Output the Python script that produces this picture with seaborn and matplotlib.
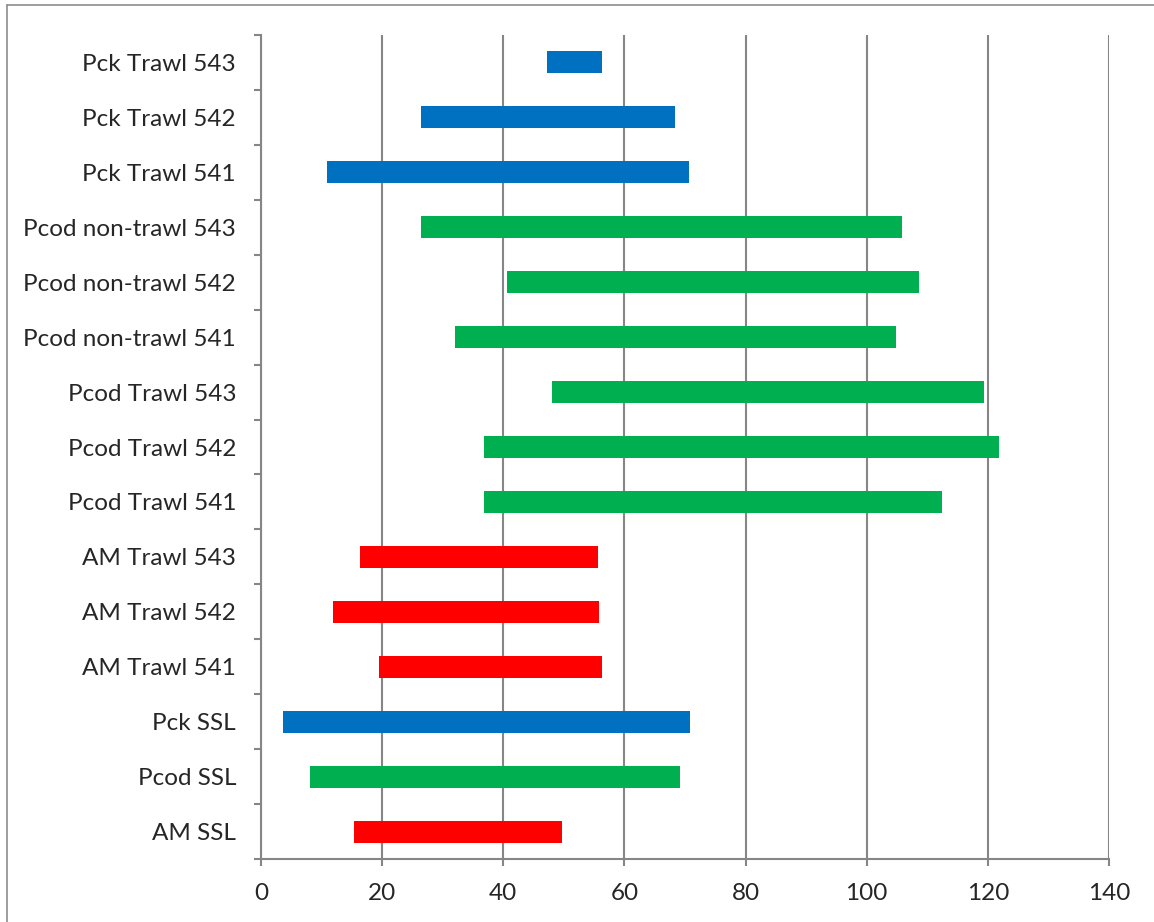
# -*- coding: utf-8 -*-

# Import libraries ======================================================================

import pandas as pd
import matplotlib.pyplot as plt
from matplotlib.lines import Line2D
import seaborn as sns

# Data ==================================================================================

labels = ["Pck Trawl 543", "Pck Trawl 542", "Pck Trawl 541",
          "Pcod non-trawl 543", "Pcod non-trawl 542", "Pcod non-trawl 541",
          "Pcod Trawl 543", "Pcod Trawl 542", "Pcod Trawl 541",
          "AM Trawl 543", "AM Trawl 542", "AM Trawl 541",
          "Pck SSL", "Pcod SSL", "AM SSL"]
species = ["Pck", "Pck", "Pck",
           "Pcod", "Pcod", "Pcod",
           "Pcod", "Pcod", "Pcod",
           "AM", "AM", "AM",
           "Pck", "Pcod", "AM"]
start = [47.2, 26.4, 10.9, 26.4, 40.6, 32.0, 48.0, 36.8, 36.8, 16.3, 11.9, 19.5, 3.6, 8.1, 15.4]
end = [56.3, 68.4, 70.7, 105.8, 108.6, 104.8, 119.4, 121.8, 112.4, 55.6, 55.8, 56.3, 70.8, 69.2, 49.7]
x_ticks = [0, 20, 40, 60, 80, 100, 120, 140]

colors = {"Pck": "#0070C0", "Pcod": "#00B050", "AM": "#FF0000"}

df = pd.DataFrame({"label": labels, "species": species, "start": start, "end": end})
df["span"] = df["end"] - df["start"]

# Plot ==================================================================================

sns.set_style("white")
plt.rcParams["font.family"] = ["Lato", "DejaVu Sans"]

fig = plt.figure(figsize=(11.54, 9.22), dpi=100)
ax = fig.add_axes([261 / 1154, 1 - 859 / 922, (1109 - 261) / 1154, (859 - 35) / 922])

# floating bars: the bar length is the span, pushed right by the start value
sns.barplot(data=df, x="span", y="label", order=labels, errorbar=None, width=0.4,
            left=df["start"].values, color="gray", saturation=1, ax=ax)

for patch, sp in zip(ax.patches, df["species"]):
    patch.set_facecolor(colors[sp])
    patch.set_edgecolor("none")

grid_col = "#868686"
ax.set_xlim(0, 140)
ax.set_ylim(len(labels) - 0.5, -0.5)
ax.set_xticks(x_ticks)
ax.set_xlabel("")
ax.set_ylabel("")
ax.xaxis.grid(True, color=grid_col, linewidth=1.5)
ax.yaxis.grid(False)
ax.set_axisbelow(True)

for side in ["top", "right"]:
    ax.spines[side].set_visible(False)
for side in ["left", "bottom"]:
    ax.spines[side].set_color(grid_col)
    ax.spines[side].set_linewidth(1.5)

# category ticks sit between the bars, like the spreadsheet original
ax.set_yticks([i - 0.5 for i in range(len(labels) + 1)], minor=True)
ax.tick_params(axis="y", which="major", length=0, pad=18, labelsize=17.5)
ax.tick_params(axis="y", which="minor", length=5, width=1.5, color=grid_col, direction="out", left=True)
ax.tick_params(axis="x", length=5, width=1.5, color=grid_col, direction="out", pad=12, labelsize=17.5, bottom=True)

# thin border round the chart area
fig.add_artist(Line2D([7 / 1154, 7 / 1154], [0, 1 - 5 / 922], color="#8c8c8c", linewidth=1.2))
fig.add_artist(Line2D([7 / 1154, 1], [1 - 5 / 922, 1 - 5 / 922], color="#8c8c8c", linewidth=1.2))

plt.savefig("out.png", dpi=100)
